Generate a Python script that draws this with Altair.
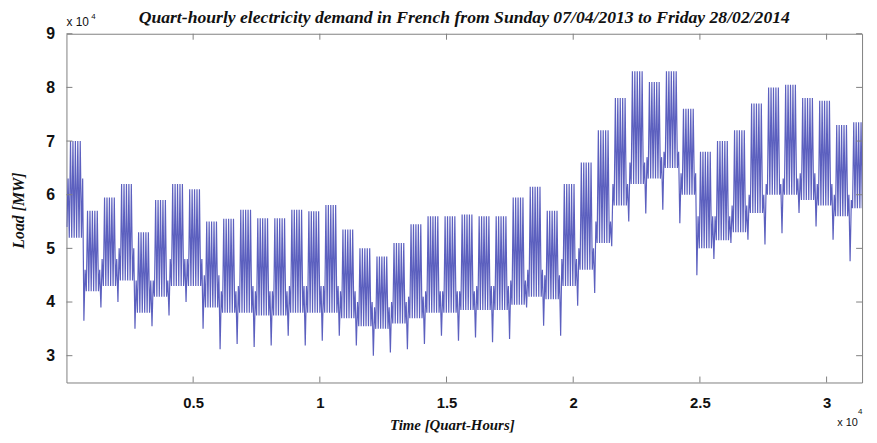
import altair as alt
import pandas as pd

# Weekly readings of the curve (MW). Week k starts on a Sunday; day 0 = Sunday 07/04/2013.
week_peak = [70000, 57000, 59500, 62000, 53000, 59000, 62000, 61000, 55000, 55500,
             57200, 55600, 55600, 57200, 56900, 58100, 53500, 50000, 48500, 51000,
             54500, 56000, 56000, 56300, 56000, 56000, 59500, 61500, 57000, 62000,
             66000, 72000, 78000, 83000, 81000, 83000, 76000, 68000, 70000, 72000,
             77000, 80000, 80500, 78000, 77500, 73000, 73500]
week_trough = [52000, 42000, 43000, 44000, 38000, 41000, 43000, 43000, 39000, 38000,
               38000, 37500, 37500, 38000, 38000, 38000, 37000, 35500, 35000, 36000,
               37000, 38000, 38000, 38500, 38500, 38500, 39500, 41000, 40500, 43000,
               46000, 51000, 58000, 62000, 63000, 65000, 60000, 50000, 51500, 53000,
               56600, 60000, 60000, 59000, 58000, 56000, 57500]
weekend_peak = [63000, 46000, 48000, 50000, 44000, 44000, 48000, 48000, 45000, 42000,
                43000, 42000, 42000, 43000, 43000, 43000, 42000, 40000, 39000, 40000,
                41000, 42000, 42000, 42000, 43000, 43000, 44000, 46000, 45000, 48000,
                50000, 55000, 62000, 66000, 67000, 68000, 64000, 56000, 56000, 58000,
                60000, 62000, 63000, 64000, 62000, 60000, 59000]
sunday_trough = [54000, 36500, 39000, 40000, 35000, 35500, 37500, 40000, 35000, 31200,
                 32200, 31600, 31900, 33700, 31900, 32800, 33700, 31900, 30000, 30600,
                 31200, 32200, 33700, 32800, 33400, 32500, 33100, 39000, 35600, 33700,
                 39300, 41700, 50400, 55000, 56500, 57200, 54700, 45000, 48000, 51000,
                 51600, 50700, 52800, 56600, 54100, 51600, 47600]

n_days = 328
x_ticks = [5000, 10000, 15000, 20000, 25000, 30000]
y_ticks = [30000, 40000, 50000, 60000, 70000, 80000, 90000]

rows = []
for d in range(n_days):
    k, wd = divmod(d, 7)
    if wd == 0:
        lo, hi = sunday_trough[k], weekend_peak[k]
    elif wd == 6:
        lo, hi = week_trough[k], weekend_peak[k]
    else:
        lo, hi = week_trough[k], week_peak[k]
    rows.append({"qh": d * 96 + 16, "load": lo})
    rows.append({"qh": d * 96 + 64, "load": hi})
df = pd.DataFrame(rows)

W, H = 803, 352
SERIF = "Liberation Serif"
SANS = "Liberation Sans"
GRAY = "#7f7f7f"

xscale = alt.Scale(domain=[0, 31400], nice=False, zero=False)
yscale = alt.Scale(domain=[25000, 90000], nice=False, zero=False)

line = alt.Chart(df).mark_line(color="#4a4fb8", strokeWidth=1.2, opacity=0.9, clip=True).encode(
    x=alt.X("qh:Q", scale=xscale, axis=alt.Axis(
        values=x_ticks, labelExpr="datum.value/10000", ticks=False, domain=False, grid=False,
        labelFont=SANS, labelFontSize=15, labelFontWeight="bold", labelColor="#111",
        labelPadding=13, title="Time [Quart-Hours]", titleFont=SERIF, titleFontSize=15,
        titleFontStyle="italic", titleFontWeight="bold", titleColor="#111",
        titleX=389, titleY=47, titleBaseline="alphabetic", titleAlign="center")),
    y=alt.Y("load:Q", scale=yscale, axis=alt.Axis(
        values=y_ticks, labelExpr="datum.value/10000", ticks=False, domain=False, grid=False,
        labelFont=SANS, labelFontSize=16, labelFontWeight="bold", labelColor="#111",
        labelPadding=12, title="Load [MW]", titleFont=SERIF, titleFontSize=16,
        titleFontStyle="italic", titleFontWeight="bold", titleColor="#111",
        titleX=-48, titleY=178, titleAngle=270, titleAlign="center", titleBaseline="middle")),
)

xt = pd.DataFrame({"qh": x_ticks})
yt = pd.DataFrame({"load": y_ticks})
tick_bottom = alt.Chart(xt).mark_rule(color=GRAY).encode(x="qh:Q", y=alt.value(H), y2=alt.value(H - 6))
tick_top = alt.Chart(xt).mark_rule(color=GRAY).encode(x="qh:Q", y=alt.value(0), y2=alt.value(6))
tick_left = alt.Chart(yt).mark_rule(color=GRAY).encode(y="load:Q", x=alt.value(0), x2=alt.value(6))
tick_right = alt.Chart(yt).mark_rule(color=GRAY).encode(y="load:Q", x=alt.value(W), x2=alt.value(W - 6))

def label(txt, x, y, size, font=SANS, style="normal", weight="normal", align="left"):
    return alt.Chart(pd.DataFrame({"t": [txt]})).mark_text(
        align=align, baseline="alphabetic", font=font, fontSize=size, color="#111",
        fontStyle=style, fontWeight=weight
    ).encode(x=alt.value(x), y=alt.value(y), text="t:N")

exp_tl = label("x 10", 0, -8, 12) + label("4", 25, -15, 8)
exp_br = label("x 10", 778, 396, 11) + label("4", 799, 384, 8)
title = label("Quart-hourly electricity demand in French from Sunday 07/04/2013 to Friday 28/02/2014",
              W / 2, -11, 17.8, font=SERIF, style="italic", weight="bold", align="center")

chart = alt.layer(line, tick_bottom, tick_top, tick_left, tick_right, exp_tl, exp_br, title).properties(
    width=W, height=H,
    autosize="none",
    padding={"left": 59, "top": 24, "right": 7, "bottom": 51},
).configure_view(stroke=GRAY, strokeWidth=1)

chart.save("out.html", embed_options={"renderer": "svg", "actions": False})
